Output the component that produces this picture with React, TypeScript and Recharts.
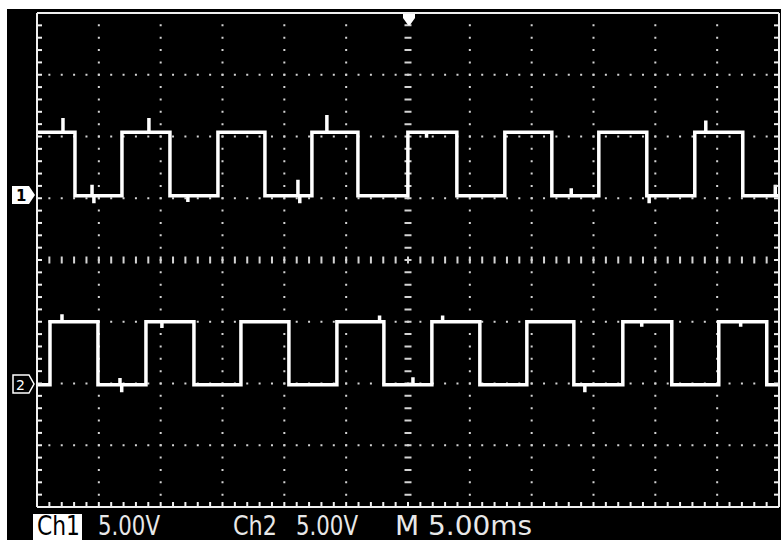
import React from 'react';
import { LineChart, Line, XAxis, YAxis, ReferenceLine } from 'recharts';

// 12 divisions at 5 ms/div across, 8 divisions down
const timeDivs = [5, 10, 15, 20, 25, 35, 40, 45, 50, 55];
const voltDivs = [1, 2, 3, 5, 6, 7];
const timeCenter = 30;
const voltCenter = 4;
const timeTicks = Array.from({ length: 61 }, (_, i) => i);
const divTicks = Array.from({ length: 41 }, (_, i) => i / 5);

// Ch1 starts high; edge times (ms), levels (V), glitches [ms, V]
const ch1Edges = [3.07, 6.87, 10.75, 14.63, 18.43, 22.23, 25.95, 29.99, 33.95, 37.83, 41.63, 45.43, 49.31, 53.19, 57.07];
const ch1High = 5.35;
const ch1Low = 0.2;
const ch1Glitches = [
  [2.1, 6.5], [4.45, 1.1], [4.6, -0.4], [9.05, 6.5], [12.2, -0.3], [21.1, 1.5], [21.25, -0.4],
  [23.44, 6.75], [31.5, 4.9], [43.2, 0.8], [49.5, -0.4], [54.08, 6.3], [59.7, 1.1],
];

// Ch2 starts low
const ch2Edges = [1.05, 4.93, 8.81, 12.69, 16.49, 20.37, 24.25, 28.05, 31.93, 35.81, 39.61, 43.41, 47.37, 51.33, 55.13, 59.01];
const ch2High = 5.0;
const ch2Low = -0.1;
const ch2Glitches = [
  [2.02, 5.6], [6.71, 0.45], [6.85, -0.7], [10.1, 4.5], [27.7, 5.5], [30.4, 0.5], [32.8, 5.5],
  [44.3, -0.7], [48.9, 4.6], [56.9, 4.6],
];

type Pt = { t: number; v: number };

function buildTrace(edges: number[], startHigh: boolean, high: number, low: number, glitches: number[][]): Pt[] {
  const events = [
    ...edges.map((t) => ({ t, peak: null as number | null })),
    ...glitches.map(([t, peak]) => ({ t, peak })),
  ].sort((a, b) => a.t - b.t);
  let level = startHigh ? high : low;
  const pts: Pt[] = [{ t: 0, v: level }];
  for (const e of events) {
    if (e.peak === null) {
      pts.push({ t: e.t, v: level });
      level = level === high ? low : high;
      pts.push({ t: e.t, v: level });
    } else {
      pts.push({ t: e.t, v: level }, { t: e.t, v: e.peak }, { t: e.t, v: level });
    }
  }
  pts.push({ t: 60, v: level });
  return pts;
}

const ch1Trace = buildTrace(ch1Edges, true, ch1High, ch1Low, ch1Glitches);
const ch2Trace = buildTrace(ch2Edges, false, ch2High, ch2Low, ch2Glitches);

const frame = { stroke: '#f0f0f0', strokeWidth: 2 };
const dotColor = '#d4d4d4';
const font = "'Liberation Sans Narrow', 'DejaVu Sans Condensed', 'DejaVu Sans', sans-serif";
const noLabel = () => <g />;

export default function App() {
  return (
    <div style={{ position: 'absolute', left: 0, top: 0, width: 781, height: 540, background: '#fff', overflow: 'hidden' }}>
      <div style={{ position: 'absolute', left: 7, top: 9, width: 774, height: 531, background: '#000' }}>
        <LineChart width={774} height={531} margin={{ top: 4, right: 2, bottom: 33, left: 30 }}>
          <XAxis xAxisId="x" dataKey="t" type="number" domain={[0, 60]} ticks={timeTicks} interval={0}
            orientation="bottom" mirror height={1} tick={noLabel} tickSize={5} axisLine={frame} tickLine={frame} allowDataOverflow />
          <XAxis xAxisId="top" type="number" domain={[0, 60]} ticks={timeTicks} interval={0}
            orientation="top" mirror height={1} tick={noLabel} tickSize={5} axisLine={frame} tickLine={frame} allowDataOverflow />
          <YAxis yAxisId="div" type="number" domain={[0, 8]} ticks={divTicks} interval={0}
            orientation="left" mirror width={1} tick={noLabel} tickSize={5} axisLine={frame} tickLine={frame} allowDataOverflow />
          <YAxis yAxisId="divR" type="number" domain={[0, 8]} ticks={divTicks} interval={0}
            orientation="right" mirror width={1} tick={noLabel} tickSize={5} axisLine={frame} tickLine={frame} allowDataOverflow />
          <YAxis yAxisId="ch1" type="number" domain={[-25, 15]} hide allowDataOverflow />
          <YAxis yAxisId="ch2" type="number" domain={[-10, 30]} hide allowDataOverflow />

          {timeDivs.map((t) => (
            <ReferenceLine key={'x' + t} xAxisId="x" yAxisId="div" x={t} stroke={dotColor} strokeWidth={2}
              strokeDasharray="2 10.35" strokeDashoffset={1} />
          ))}
          {voltDivs.map((d) => (
            <ReferenceLine key={'y' + d} xAxisId="x" yAxisId="div" y={d} stroke={dotColor} strokeWidth={2}
              strokeDasharray="2 10.367" strokeDashoffset={1} />
          ))}
          <ReferenceLine xAxisId="x" yAxisId="div" x={timeCenter} stroke={dotColor} strokeWidth={7}
            strokeDasharray="2 10.35" strokeDashoffset={1} />
          <ReferenceLine xAxisId="x" yAxisId="div" y={voltCenter} stroke={dotColor} strokeWidth={7}
            strokeDasharray="2 10.367" strokeDashoffset={1} />

          <Line xAxisId="x" yAxisId="ch1" data={ch1Trace} dataKey="v" type="linear" stroke="#fff" strokeWidth={3.5}
            dot={false} activeDot={false} isAnimationActive={false} strokeLinejoin="miter" />
          <Line xAxisId="x" yAxisId="ch2" data={ch2Trace} dataKey="v" type="linear" stroke="#fff" strokeWidth={3.5}
            dot={false} activeDot={false} isAnimationActive={false} strokeLinejoin="miter" />
        </LineChart>
      </div>

      <svg width={781} height={540} style={{ position: 'absolute', left: 0, top: 0, pointerEvents: 'none' }}>
        {/* trigger position marker */}
        <polygon points="403,14 415,14 415,18 410,25 408,25 403,18" fill="#fff" />
        {/* channel ground markers */}
        <polygon points="12,186 29,186 35,195 29,204 12,204" fill="#fff" />
        <text x={16} y={201} fontSize={15} fontWeight="bold" fontFamily="'DejaVu Sans', sans-serif" fill="#000">1</text>
        <polygon points="13,375 29,375 34,384 29,393 13,393" fill="#000" stroke="#fff" strokeWidth={1.5} />
        <text x={16} y={390} fontSize={14} fontFamily="'DejaVu Sans', sans-serif" fill="#fff">2</text>

        {/* status line */}
        <rect x={33} y={514} width={49} height={26} fill="#fff" />
        <g fontFamily={font} fontSize={26} fill="#e8e8e8">
          <text x={37} y={535} textLength={43} lengthAdjust="spacingAndGlyphs" fill="#000">Ch1</text>
          <text x={98} y={535} textLength={62} lengthAdjust="spacingAndGlyphs">5.00V</text>
          <text x={233} y={535} textLength={44} lengthAdjust="spacingAndGlyphs">Ch2</text>
          <text x={296} y={535} textLength={62} lengthAdjust="spacingAndGlyphs">5.00V</text>
          <text x={395} y={535} textLength={137} lengthAdjust="spacingAndGlyphs">M 5.00ms</text>
        </g>
      </svg>
    </div>
  );
}
